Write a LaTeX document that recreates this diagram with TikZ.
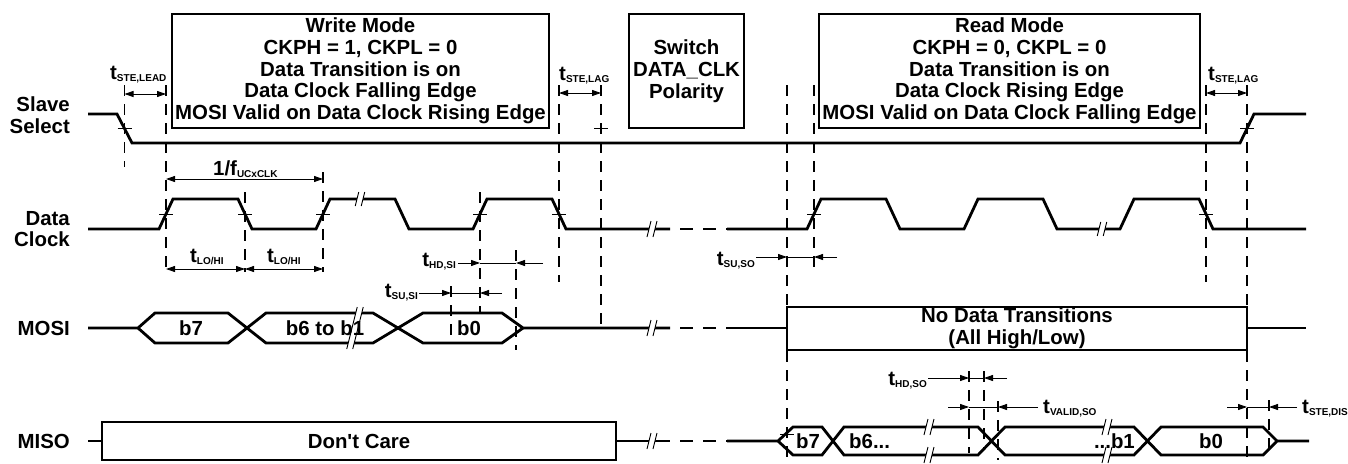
\documentclass[tikz,border=0pt]{standalone}
\usepackage{fontspec}
\setmainfont{Liberation Sans}
\usetikzlibrary{arrows.meta}

\newcommand{\lowsub}[1]{\raisebox{-2pt}{\fontsize{10}{10}\selectfont #1}}
% break mark: x, y, half height
\newcommand{\brk}[3]{%
  \fill[white] ({#1-3-0.25*#3},{#2+#3}) -- ({#1-3+0.25*#3},{#2-#3}) -- ({#1+3+0.25*#3},{#2-#3}) -- ({#1+3-0.25*#3},{#2+#3}) -- cycle;
  \draw[line width=0.9pt] ({#1-3-0.25*#3},{#2+#3}) -- ({#1-3+0.25*#3},{#2-#3});
  \draw[line width=0.9pt] ({#1+3-0.25*#3},{#2+#3}) -- ({#1+3+0.25*#3},{#2-#3});}

\begin{document}
\begin{tikzpicture}[x=1pt, y=-1pt, >={Triangle[length=9pt,width=6pt]},
  every node/.style={font=\fontsize{20.4}{21.75}\selectfont\bfseries, inner sep=0pt},
  sig/.style={line width=2.8pt},
  dim/.style={line width=0.9pt},
  guide/.style={line width=1.2pt, dash pattern=on 11pt off 8pt},
  modebox/.style={draw, line width=2.8pt, align=center}]
\useasboundingbox (0,0) rectangle (1348,463);

% guides
\draw[guide] (124.5,85) -- (124.5,167);
\draw[guide] (166,85) -- (166,272);
\draw[guide] (245,192) -- (245,272);
\draw[guide] (323,172) -- (323,272);
\draw[guide] (451,286) -- (451,343);
\draw[guide] (480,192) -- (480,313);
\draw[guide] (516,250) -- (516,350);
\draw[guide] (559,85) -- (559,282);
\draw[guide] (601,85) -- (601,328);
\draw[guide] (787,85) -- (787,463);
\draw[guide] (814,85) -- (814,272);
\draw[guide] (969,371) -- (969,453);
\draw[guide] (984,371) -- (984,450);
\draw[guide] (998,401) -- (998,460);
\draw[guide] (1206,85) -- (1206,282);
\draw[guide] (1247,85) -- (1247,463);
\draw[guide] (1269,400) -- (1269,457);

% signal names
\node[anchor=east, align=right] (ssname) at (70,115.5) {Slave\\Select};
\node[anchor=east, align=right] (clkname) at (70,229) {Data\\Clock};
\node[anchor=east] (mosiname) at (70,328) {MOSI};
\node[anchor=east] (misoname) at (70,441) {MISO};

% mode boxes
\node[modebox, minimum width=377pt, minimum height=114pt] (wrbox) at (360.5,71) {Write Mode\\CKPH = 1, CKPL = 0\\Data Transition is on\\Data Clock Falling Edge\\MOSI Valid on Data Clock Rising Edge};
\node[modebox, minimum width=115pt, minimum height=114pt] (swbox) at (686.5,71) {Switch\\DATA\_CLK\\Polarity};
\node[modebox, minimum width=381pt, minimum height=114pt] (rdbox) at (1009.5,71) {Read Mode\\CKPH = 0, CKPL = 0\\Data Transition is on\\Data Clock Rising Edge\\MOSI Valid on Data Clock Falling Edge};

% slave select
\draw[sig] (88,114) -- (117,114) -- (132,143) -- (1240,143) -- (1254,114) -- (1306,114);
\draw[dim] (117.5,128.5) -- (131.5,128.5);
\draw[dim] (594,128.5) -- (608,128.5);
\draw[dim] (1240,128.5) -- (1254,128.5);

% data clock
\draw[sig] (88,229) -- (159,229) -- (173,199) -- (238,199) -- (252,229) -- (316,229) -- (330,199) -- (395,199) -- (409,229) -- (473,229) -- (487,199) -- (552,199) -- (566,229) -- (670,229);
\draw[sig, dash pattern=on 13pt off 10pt] (680,229) -- (727,229);
\draw[sig] (727,229) -- (807,229) -- (821,199) -- (886,199) -- (900,229) -- (964,229) -- (978,199) -- (1043,199) -- (1057,229) -- (1120,229) -- (1134,199) -- (1199,199) -- (1213,229) -- (1306,229);
\draw[dim] (159,214) -- (173,214);
\draw[dim] (238,214) -- (252,214);
\draw[dim] (316,214) -- (330,214);
\draw[dim] (473,214) -- (487,214);
\draw[dim] (552,214) -- (566,214);
\draw[dim] (807,214) -- (821,214);
\draw[dim] (1199,214) -- (1213,214);
\brk{360}{199}{7}
\brk{652}{229}{8}
\brk{1102}{229}{7}

% MOSI
\draw[sig] (88,328) -- (138,328) -- (155,313) -- (228,313) -- (266,343) -- (373,343) -- (423,313) -- (502,313) -- (523,328) -- (670,328);
\draw[sig] (138,328) -- (155,343) -- (228,343) -- (266,313) -- (373,313) -- (423,343) -- (502,343) -- (523,328);
\draw[sig, dash pattern=on 13pt off 10pt] (680,328) -- (727,328);
\draw[sig] (727,328) -- (787,328);
\draw[sig] (1247,328) -- (1306,328);
\brk{652}{328}{8}
\brk{355}{328}{21}
\node (mosib7) at (191,328) {b7};
\node (mosib61) at (325,328) {b6 to b1};
\node (mosib0) at (469,328) {b0};
\node[draw, sig, minimum width=460pt, minimum height=43pt, align=center] (nodata) at (1017,328.5) {No Data Transitions\\(All High/Low)};

% MISO
\draw[sig] (88,441) -- (102,441);
\node[draw, sig, minimum width=514pt, minimum height=38pt] (dontcare) at (359,441) {Don\textquotesingle t Care};
\draw[sig] (616,441) -- (670,441);
\draw[sig, dash pattern=on 13pt off 10pt] (680,441) -- (727,441);
\draw[sig] (727,441) -- (778,441) -- (793,427) -- (822,427) -- (844,455) -- (978,455) -- (1005,427) -- (1134,427) -- (1161,455) -- (1263,455) -- (1277,441) -- (1309,441);
\draw[sig] (778,441) -- (793,455) -- (822,455) -- (844,427) -- (978,427) -- (1005,455) -- (1134,455) -- (1161,427) -- (1263,427) -- (1277,441);
\draw[dim] (780,434) -- (794,434);
\brk{652}{441}{8}
\brk{929}{427}{8}
\brk{929}{455}{8}
\brk{1107}{427}{8}
\brk{1107}{455}{8}
\node (misob7) at (808,441) {b7};
\node[anchor=west] (misob6) at (849,441) {b6...};
\node[anchor=east] (misob1) at (1135,441) {...b1};
\node (misob0) at (1211,441) {b0};

% timing marks
\draw[dim,<->] (124.5,94) -- (166,94);
\node[anchor=base west] (tlead) at (110,79) {t\lowsub{STE,LEAD}};
\draw[dim,<->] (166,179) -- (323,179);
\node[anchor=base west] (tclk) at (213,175) {1/f\lowsub{UCxCLK}};
\draw[dim,<->] (166,269) -- (245,269);
\draw[dim,<->] (245,269) -- (323,269);
\node[anchor=base west] (tlo) at (190,262) {t\lowsub{LO/HI}};
\node[anchor=base west] (thi) at (267,262) {t\lowsub{LO/HI}};
\draw[dim,<->] (559,93) -- (601,93);
\node[anchor=base west] (tlag) at (559,80) {t\lowsub{STE,LAG}};
\draw[dim,<->] (1206,93) -- (1247,93);
\node[anchor=base west] (tlagb) at (1208,80) {t\lowsub{STE,LAG}};
\draw[dim,->] (458,263) -- (480,263);
\draw[dim] (480,263) -- (516,263);
\draw[dim,->] (543,263) -- (516,263);
\node[anchor=base east] (thdsi) at (456,266) {t\lowsub{HD,SI}};
\draw[dim,->] (419,293) -- (451,293);
\draw[dim] (451,293) -- (480,293);
\draw[dim,->] (502,293) -- (480,293);
\node[anchor=base east] (tsusi) at (418,297) {t\lowsub{SU,SI}};
\draw[dim,->] (756,257) -- (787,257);
\draw[dim] (787,257) -- (814,257);
\draw[dim,->] (837,257) -- (814,257);
\node[anchor=base east] (tsuso) at (755,265) {t\lowsub{SU,SO}};
\draw[dim,->] (928,378) -- (969,378);
\draw[dim] (969,378) -- (984,378);
\draw[dim,->] (1007,378) -- (984,378);
\node[anchor=base east] (thdso) at (927,385) {t\lowsub{HD,SO}};
\draw[dim,->] (948,407) -- (969,407);
\draw[dim] (969,407) -- (998,407);
\draw[dim,->] (1038,407) -- (998,407);
\node[anchor=base west] (tvalid) at (1043,413) {t\lowsub{VALID,SO}};
\draw[dim,->] (1227,407) -- (1247,407);
\draw[dim] (1247,407) -- (1269,407);
\draw[dim,->] (1297,407) -- (1269,407);
\node[anchor=base west] (tdis) at (1302,413) {t\lowsub{STE,DIS}};
\end{tikzpicture}
\end{document}
